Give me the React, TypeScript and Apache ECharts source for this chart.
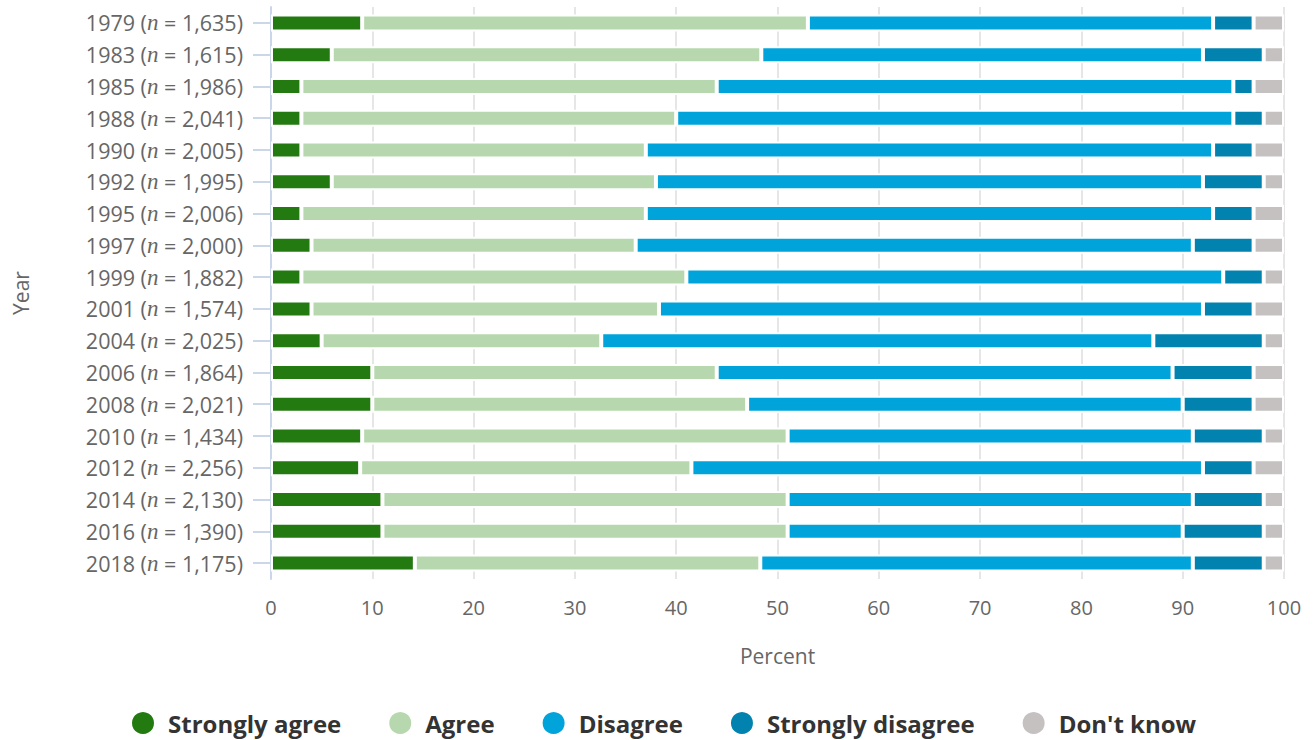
import React, { useEffect, useRef } from "react";
import * as echarts from "echarts";

const years = ["1979","1983","1985","1988","1990","1992","1995","1997","1999","2001","2004","2006","2008","2010","2012","2014","2016","2018"];
const sampleSizes = ["1,635","1,615","1,986","2,041","2,005","1,995","2,006","2,000","1,882","1,574","2,025","1,864","2,021","1,434","2,256","2,130","1,390","1,175"];

const stronglyAgree = [9, 6, 3, 3, 3, 6, 3, 4, 3, 4, 5, 10, 10, 9, 8.8, 11, 11, 14.2];
const agree = [44, 42.4, 41, 37, 34, 32, 34, 32, 38, 34.3, 27.6, 34, 37, 42, 32.7, 40, 40, 34.1];
const disagree = [40, 43.6, 51, 55, 56, 54, 56, 55, 53, 53.7, 54.5, 45, 43, 40, 50.5, 40, 39, 42.7];
const stronglyDisagree = [4, 6, 2, 3, 4, 6, 4, 6, 4, 5, 10.9, 8, 7, 7, 5, 7, 8, 7];
const dontKnow = [3, 2, 3, 2, 3, 2, 3, 3, 2, 3, 2, 3, 3, 2, 3, 2, 2, 2];

const seriesNames = ["Strongly agree", "Agree", "Disagree", "Strongly disagree", "Don't know"];
const seriesColors = ["#237a10", "#b7d8ae", "#00a4db", "#0282ae", "#c5c1c0"];
const seriesData = [stronglyAgree, agree, disagree, stronglyDisagree, dontKnow];

const xTicks = { min: 0, max: 100, interval: 10 };

export default function App() {
  const ref = useRef<HTMLDivElement>(null);
  useEffect(() => {
    if (!ref.current) return;
    const chart = echarts.init(ref.current, null, { renderer: "svg" });
    const font = "'Open Sans', sans-serif";
    const categories = years.map((y, i) => `${y}|${sampleSizes[i]}`);
    chart.setOption({
      animation: false,
      backgroundColor: "#ffffff",
      grid: { left: 271, right: 32, top: 7, bottom: 161, containLabel: false },
      legend: {
        data: seriesNames,
        top: 705,
        left: 125,
        icon: "circle",
        itemWidth: 24,
        itemHeight: 24,
        itemGap: 46,
        textStyle: { fontFamily: font, fontWeight: "bold", fontSize: 24, color: "#333333", padding: [0, 0, 0, 8] },
      },
      xAxis: {
        type: "value",
        min: xTicks.min,
        max: xTicks.max,
        interval: xTicks.interval,
        name: "Percent",
        nameLocation: "middle",
        nameGap: 66,
        nameTextStyle: { fontFamily: font, fontSize: 21, color: "#666666" },
        axisLine: { show: false },
        axisTick: { show: false },
        axisLabel: { fontFamily: font, fontSize: 20, color: "#666666", margin: 18 },
        splitLine: { show: true, lineStyle: { color: "#e6e6e6", width: 2 } },
      },
      yAxis: {
        type: "category",
        inverse: true,
        data: categories,
        name: "Year",
        nameLocation: "middle",
        nameRotate: 90,
        nameGap: 240,
        nameTextStyle: { fontFamily: font, fontSize: 21, color: "#666666" },
        axisLine: { show: true, lineStyle: { color: "#ccd6eb", width: 2 } },
        axisTick: { show: true, alignWithLabel: true, length: 18, lineStyle: { color: "#ccd6eb", width: 2 } },
        axisLabel: {
          margin: 28,
          formatter: (v: string) => {
            const [y, n] = v.split("|");
            return `{a|${y} (}{n|n}{a| = ${n})}`;
          },
          rich: {
            a: { fontFamily: font, fontSize: 21.5, color: "#666666" },
            n: { fontFamily: "'Liberation Serif', serif", fontStyle: "italic", fontSize: 23, color: "#666666" },
          },
        },
        splitLine: { show: false },
      },
      series: seriesNames.map((name, i) => ({
        name,
        type: "bar",
        stack: "total",
        barWidth: 17,
        data: seriesData[i],
        itemStyle: { color: seriesColors[i], borderColor: "#ffffff", borderWidth: 2 },
        emphasis: { disabled: true },
      })),
    });
    return () => chart.dispose();
  }, []);
  return <div ref={ref} style={{ position: "fixed", left: 0, top: 0, width: 1316, height: 740 }} />;
}
